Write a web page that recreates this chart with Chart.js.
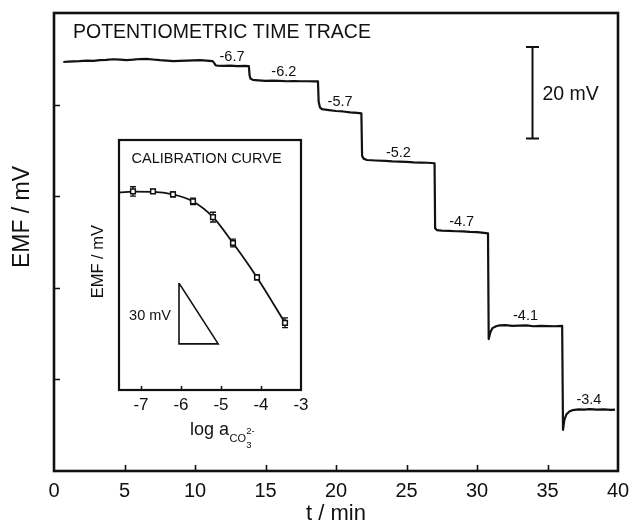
<!DOCTYPE html>
<html>
<head>
<meta charset="utf-8">
<script src="https://cdn.jsdelivr.net/npm/chart.js@4.4.1/dist/chart.umd.min.js"></script>
<style>
  html, body { margin: 0; padding: 0; background: #fff; }
  #wrap { position: relative; width: 631px; height: 524px; }
  #main { position: absolute; left: 0; top: 0; }
  #inset { position: absolute; left: 75px; top: 132px; }
</style>
</head>
<body>
<div id="wrap">
  <canvas id="main" width="631" height="524"></canvas>
  <canvas id="inset" width="240" height="320"></canvas>
</div>
<script>
// ---- Potentiometric time trace (t in min, EMF in mV, relative) ----
const traceTime = [
  0.66, 1.00, 1.37, 1.80, 2.32, 2.80, 3.26, 3.70, 4.21, 4.70, 5.15, 5.60, 6.10, 6.57, 7.00, 7.52,
  8.00, 8.46, 8.90, 9.41, 9.90, 10.35, 10.80, 11.25, 11.38, 11.45,
  11.60, 12.00, 12.50, 13.00, 13.50, 13.82, 13.87, 13.93,
  14.10, 14.50, 15.00, 15.50, 16.00, 16.50, 17.00, 17.50, 18.00, 18.50, 18.72, 18.77, 18.86,
  19.00, 19.50, 20.00, 20.50, 21.00, 21.50, 21.80, 21.85, 21.96,
  22.20, 22.80, 23.50, 24.00, 24.50, 25.00, 25.50, 26.00, 26.50, 26.99, 27.03, 27.15,
  27.50, 28.00, 28.50, 29.00, 29.50, 30.00, 30.50, 30.78, 30.83, 30.95, 31.10, 31.35,
  31.60, 32.00, 32.50, 33.00, 33.50, 34.00, 34.50, 35.00, 35.50, 36.04, 36.10, 36.20, 36.35, 36.55,
  36.80, 37.20, 37.60, 38.00, 38.50, 39.00, 39.50, 39.79
];
const traceEmf = [
  89.30, 89.40, 89.45, 89.50, 89.60, 89.55, 89.70, 89.75, 89.90, 89.80, 89.70, 89.80, 89.95, 90.00, 89.85, 89.70,
  89.60, 89.50, 89.55, 89.60, 89.65, 89.70, 89.60, 89.50, 89.00, 88.60,
  88.50, 88.45, 88.50, 88.40, 88.45, 88.40, 86.40, 85.70,
  85.40, 85.30, 85.20, 85.25, 85.20, 85.10, 85.15, 85.10, 85.10, 85.05, 85.10, 80.60, 79.40,
  79.00, 78.80, 78.60, 78.50, 78.30, 78.20, 78.10, 68.80, 68.20,
  67.90, 67.80, 67.70, 67.60, 67.55, 67.50, 67.40, 67.35, 67.30, 67.20, 53.00, 52.60,
  52.50, 52.45, 52.35, 52.30, 52.20, 52.15, 52.00, 51.90, 28.80, 30.30, 31.20, 31.60,
  31.80, 31.85, 31.70, 31.75, 31.80, 31.60, 31.70, 31.65, 31.60, 31.70, 9.00, 11.20, 12.40, 13.00,
  13.30, 13.45, 13.40, 13.50, 13.40, 13.45, 13.35, 13.40
];

// Times at which the carbonate activity was changed, and the resulting log a values
const stepTimes = [11.40, 13.85, 18.75, 21.83, 27.02, 30.80, 36.08, 39.79];
const stepLabels = ['-6.7', '-6.2', '-5.7', '-5.2', '-4.7', '-4.1', '-3.4'];

// Axis ticks
const timeTicks = [0, 5, 10, 15, 20, 25, 30, 35, 40];
const emfTicks = [0, 20, 40, 60, 80, 100];

// Scale bar (mV)
const scaleBarMv = 20;
const scaleBarTime = 33.9;
const scaleBarTopMv = 92.6;

// ---- Calibration curve ----
const calLogA = [-7.2, -6.7, -6.2, -5.7, -5.2, -4.7, -4.1, -3.4];
const calEmf  = [98.1, 98.1, 96.6, 93.2, 85.4, 72.6, 55.6, 33.2];
const calErr  = [2.3, 1.0, 1.2, 1.6, 2.4, 1.9, 1.2, 2.4];
const fitLogA = [-7.53, -7.2, -6.7, -6.2, -5.7, -5.2, -4.7, -4.1, -3.4];
const fitEmf  = [97.6, 98.0, 97.9, 96.6, 93.1, 85.4, 72.6, 55.6, 33.2];
const slopeLogA = [-6.05, -6.05, -5.07, -6.05];
const slopeEmf  = [52.8, 22.8, 22.8, 52.8];
const calTicks = [-7, -6, -5, -4, -3];

const INK = '#111';
const FONT = "'Liberation Sans', Arial, Helvetica, sans-serif";

const toXY = (xs, ys) => xs.map((v, i) => ({ x: v, y: ys[i] }));

function levelAt(t) {
  let best = 0;
  traceTime.forEach((v, i) => { if (Math.abs(v - t) < Math.abs(traceTime[best] - t)) best = i; });
  return traceEmf[best];
}

// Frame, inward ticks and annotations for the time trace
const traceDecor = {
  id: 'traceDecor',
  afterDraw(chart) {
    const { ctx, chartArea: a, scales: { x, y } } = chart;
    ctx.save();
    ctx.strokeStyle = INK;
    ctx.fillStyle = INK;

    // inward ticks
    ctx.lineWidth = 1.6;
    ctx.beginPath();
    timeTicks.forEach(v => {
      if (v <= x.min || v >= x.max) return;
      const px = Math.round(x.getPixelForValue(v)) + 0.5;
      ctx.moveTo(px, a.bottom); ctx.lineTo(px, a.bottom - 6);
    });
    emfTicks.forEach(v => {
      if (v <= y.min || v >= y.max) return;
      const py = Math.round(y.getPixelForValue(v)) + 0.5;
      ctx.moveTo(a.left, py); ctx.lineTo(a.left + 6, py);
    });
    ctx.stroke();

    // frame
    ctx.lineWidth = 2.6;
    ctx.strokeRect(a.left, a.top, a.right - a.left, a.bottom - a.top);

    // title
    ctx.font = `19.5px ${FONT}`;
    ctx.textAlign = 'left';
    ctx.textBaseline = 'alphabetic';
    ctx.fillText('POTENTIOMETRIC TIME TRACE', a.left + 19, a.top + 25);

    // step labels (log a of each addition)
    ctx.font = `14.5px ${FONT}`;
    ctx.textAlign = 'center';
    stepLabels.forEach((lab, i) => {
      const tm = (stepTimes[i] + stepTimes[i + 1]) / 2;
      const px = x.getPixelForValue(tm);
      const py = y.getPixelForValue(levelAt(tm));
      ctx.fillText(lab, px, py - 5);
    });

    // 20 mV scale bar
    const bx = Math.round(x.getPixelForValue(scaleBarTime)) + 0.5;
    const byTop = y.getPixelForValue(scaleBarTopMv);
    const byBot = y.getPixelForValue(scaleBarTopMv - scaleBarMv);
    ctx.lineWidth = 2;
    ctx.beginPath();
    ctx.moveTo(bx, byTop); ctx.lineTo(bx, byBot);
    ctx.moveTo(bx - 6.5, byTop); ctx.lineTo(bx + 6.5, byTop);
    ctx.moveTo(bx - 6.5, byBot); ctx.lineTo(bx + 6.5, byBot);
    ctx.stroke();
    ctx.font = `19.5px ${FONT}`;
    ctx.textAlign = 'left';
    ctx.fillText(scaleBarMv + ' mV', bx + 10, (byTop + byBot) / 2 + 7);

    // axis titles
    ctx.font = `22px ${FONT}`;
    ctx.textAlign = 'center';
    ctx.textBaseline = 'middle';
    ctx.fillText('t / min', (a.left + a.right) / 2, 514);
    ctx.save();
    ctx.translate(23, 217);
    ctx.rotate(-Math.PI / 2);
    ctx.font = `23px ${FONT}`;
    ctx.fillText('EMF / mV', 0, 0);
    ctx.restore();

    ctx.restore();
  }
};

new Chart(document.getElementById('main'), {
  type: 'line',
  data: {
    datasets: [{
      data: toXY(traceTime, traceEmf),
      borderColor: INK,
      borderWidth: 2.2,
      pointRadius: 0,
      tension: 0,
      borderJoinStyle: 'round'
    }]
  },
  options: {
    responsive: false,
    animation: false,
    devicePixelRatio: 1,
    layout: { padding: { top: 13, right: 13, left: 0, bottom: 0 } },
    plugins: { legend: { display: false }, tooltip: { enabled: false } },
    scales: {
      x: {
        type: 'linear', min: 0, max: 40,
        afterFit(s) { s.height = 53; s.paddingLeft = 0; s.paddingRight = 0; },
        afterBuildTicks(s) { s.ticks = timeTicks.map(v => ({ value: v })); },
        grid: { display: false, drawTicks: false, tickLength: 0 }, border: { display: false },
        ticks: { color: INK, font: { family: FONT, size: 20 }, padding: 8, maxRotation: 0, autoSkip: false }
      },
      y: {
        type: 'linear', min: 0, max: 100,
        afterFit(s) { s.width = 54; s.paddingTop = 0; s.paddingBottom = 0; },
        grid: { display: false, drawTicks: false, tickLength: 0 }, border: { display: false },
        ticks: { display: false }
      }
    }
  },
  plugins: [traceDecor]
});

// Error bars, frame, ticks and labels for the calibration inset
const calDecor = {
  id: 'calDecor',
  beforeDraw(chart) {
    const { ctx, chartArea: a } = chart;
    ctx.save();
    ctx.fillStyle = '#fff';
    ctx.fillRect(a.left, a.top, a.right - a.left, a.bottom - a.top);
    ctx.restore();
  },
  beforeDatasetsDraw(chart) {
    const { ctx, scales: { x, y } } = chart;
    ctx.save();
    ctx.strokeStyle = INK;
    ctx.lineWidth = 1.3;
    ctx.beginPath();
    calLogA.forEach((v, i) => {
      const px = x.getPixelForValue(v);
      const y1 = y.getPixelForValue(calEmf[i] + calErr[i]);
      const y2 = y.getPixelForValue(calEmf[i] - calErr[i]);
      ctx.moveTo(px, y1); ctx.lineTo(px, y2);
      ctx.moveTo(px - 3, y1); ctx.lineTo(px + 3, y1);
      ctx.moveTo(px - 3, y2); ctx.lineTo(px + 3, y2);
    });
    ctx.stroke();
    ctx.restore();
  },
  afterDraw(chart) {
    const { ctx, chartArea: a, scales: { x, y } } = chart;
    ctx.save();
    ctx.strokeStyle = INK;
    ctx.fillStyle = INK;

    ctx.lineWidth = 1.5;
    ctx.beginPath();
    calTicks.forEach(v => {
      if (v <= x.min || v >= x.max) return;
      const px = Math.round(x.getPixelForValue(v)) + 0.5;
      ctx.moveTo(px, a.bottom); ctx.lineTo(px, a.bottom - 4);
    });
    ctx.stroke();

    ctx.lineWidth = 2.2;
    ctx.strokeRect(a.left, a.top, a.right - a.left, a.bottom - a.top);

    ctx.textBaseline = 'alphabetic';
    ctx.textAlign = 'left';
    ctx.font = `14.5px ${FONT}`;
    ctx.fillText('CALIBRATION CURVE', a.left + 12.5, a.top + 23.3);

    // slope triangle label
    const tx = x.getPixelForValue(slopeLogA[0]);
    const tyMid = (y.getPixelForValue(slopeEmf[0]) + y.getPixelForValue(slopeEmf[1])) / 2;
    ctx.textAlign = 'right';
    ctx.textBaseline = 'middle';
    ctx.fillText('30 mV', tx - 8, tyMid + 3);

    // y title
    ctx.save();
    ctx.translate(23.3, 129.7);
    ctx.rotate(-Math.PI / 2);
    ctx.textAlign = 'center';
    ctx.font = `16.5px ${FONT}`;
    ctx.fillText('EMF / mV', 0, 0);
    ctx.restore();

    // x title: log a(CO3 2-)
    ctx.textAlign = 'left';
    ctx.textBaseline = 'alphabetic';
    let cx = a.left + 71;
    const base = a.bottom + 45;
    ctx.font = `18px ${FONT}`;
    ctx.fillText('log a', cx, base);
    cx += ctx.measureText('log a').width + 0.5;
    ctx.font = `11px ${FONT}`;
    ctx.fillText('CO', cx, base + 7);
    cx += ctx.measureText('CO').width + 0.3;
    ctx.font = `9.5px ${FONT}`;
    ctx.fillText('2-', cx, base - 1);
    ctx.fillText('3', cx, base + 13);

    ctx.restore();
  }
};

new Chart(document.getElementById('inset'), {
  type: 'line',
  data: {
    datasets: [
      {
        data: toXY(calLogA, calEmf),
        showLine: false,
        pointStyle: 'rect',
        pointRadius: 3.3,
        pointBackgroundColor: '#fff',
        pointBorderColor: INK,
        pointBorderWidth: 1.5,
        order: 0
      },
      {
        data: toXY(fitLogA, fitEmf),
        borderColor: INK,
        borderWidth: 1.8,
        pointRadius: 0,
        cubicInterpolationMode: 'monotone',
        order: 1
      },
      {
        data: toXY(slopeLogA, slopeEmf),
        borderColor: INK,
        borderWidth: 1.6,
        pointRadius: 0,
        tension: 0,
        order: 2
      }
    ]
  },
  options: {
    responsive: false,
    animation: false,
    devicePixelRatio: 1,
    layout: { padding: { top: 8, right: 14, left: 0, bottom: 0 } },
    plugins: { legend: { display: false }, tooltip: { enabled: false } },
    scales: {
      x: {
        type: 'linear', min: -7.55, max: -3,
        afterFit(s) { s.height = 62; s.paddingLeft = 0; s.paddingRight = 0; },
        afterBuildTicks(s) { s.ticks = calTicks.map(v => ({ value: v })); },
        grid: { display: false, drawTicks: false, tickLength: 0 }, border: { display: false },
        ticks: { color: INK, font: { family: FONT, size: 17 }, padding: 5, maxRotation: 0, autoSkip: false }
      },
      y: {
        type: 'linear', min: 0, max: 123.5,
        afterFit(s) { s.width = 44; s.paddingTop = 0; s.paddingBottom = 0; },
        grid: { display: false, drawTicks: false, tickLength: 0 }, border: { display: false },
        ticks: { display: false }
      }
    }
  },
  plugins: [calDecor]
});
</script>
</body>
</html>
